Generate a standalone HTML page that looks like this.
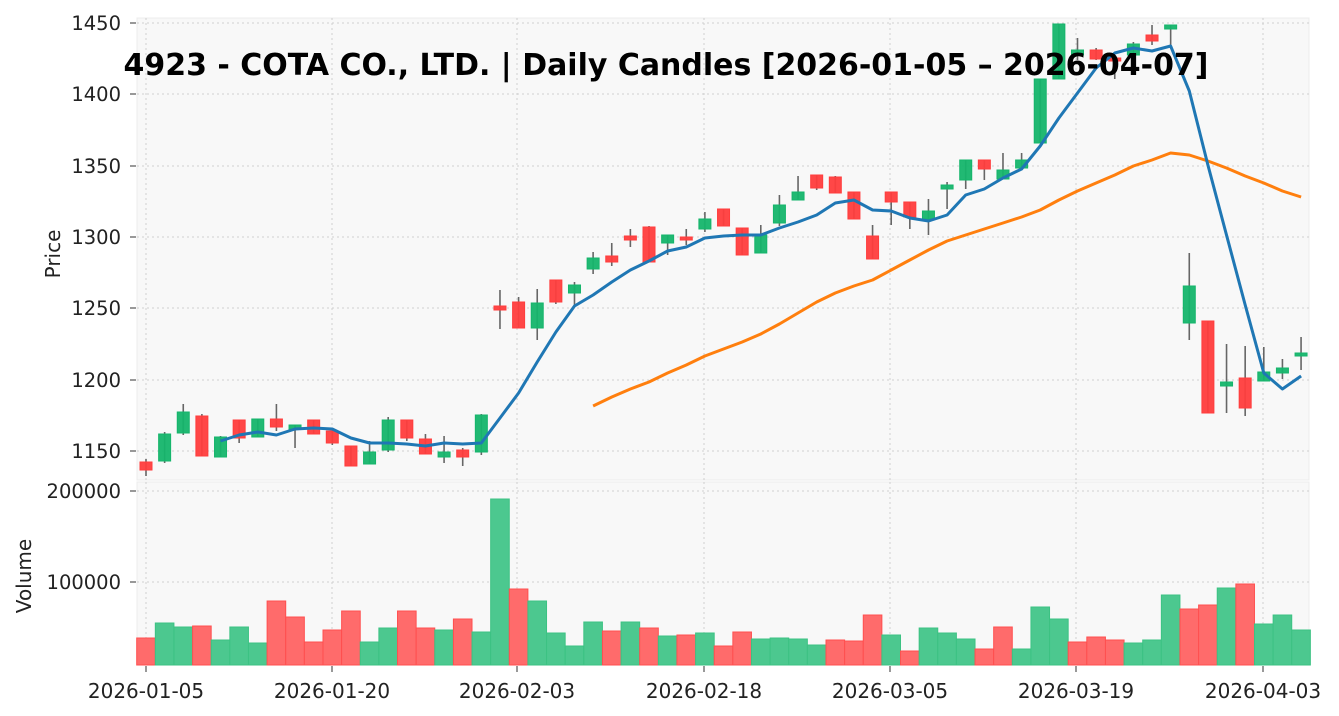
<!DOCTYPE html>
<html><head><meta charset="utf-8"><style>
html,body{margin:0;padding:0;background:#fff;}
svg{display:block;font-family:"DejaVu Sans","Liberation Sans",sans-serif;}
</style></head><body>
<svg id="s" width="1339" height="716" viewBox="0 0 1339 716" xmlns="http://www.w3.org/2000/svg">
<rect x="137" y="18" width="1172" height="462" fill="#f8f8f8" stroke="#ececec"/>
<rect x="137" y="482" width="1172" height="183" fill="#f8f8f8" stroke="#ececec"/>
<g id="grid" stroke="#cfcfcf" stroke-dasharray="2,3" stroke-width="1"></g>
<g id="vol"></g>
<g id="cdl"></g>
<polyline id="ma2" fill="none" stroke="#ff7f0e" stroke-width="3" stroke-linejoin="round"/>
<polyline id="ma1" fill="none" stroke="#1f77b4" stroke-width="3" stroke-linejoin="round"/>
<g font-size="19.5" fill="#222" text-anchor="end">
<text x="121" y="30">1450</text><text x="121" y="101">1400</text><text x="121" y="173">1350</text>
<text x="121" y="244">1300</text><text x="121" y="315">1250</text><text x="121" y="387">1200</text>
<text x="121" y="458">1150</text><text x="121" y="498">200000</text><text x="121" y="589">100000</text>
</g>
<g stroke="#555" stroke-width="1.2">
<line x1="130" y1="23" x2="136" y2="23"/><line x1="130" y1="94" x2="136" y2="94"/><line x1="130" y1="166" x2="136" y2="166"/>
<line x1="130" y1="237" x2="136" y2="237"/><line x1="130" y1="308" x2="136" y2="308"/><line x1="130" y1="380" x2="136" y2="380"/>
<line x1="130" y1="451" x2="136" y2="451"/><line x1="130" y1="491" x2="136" y2="491"/><line x1="130" y1="582" x2="136" y2="582"/>
<line x1="146" y1="666" x2="146" y2="672"/><line x1="332" y1="666" x2="332" y2="672"/><line x1="517" y1="666" x2="517" y2="672"/>
<line x1="704" y1="666" x2="704" y2="672"/><line x1="890" y1="666" x2="890" y2="672"/><line x1="1076" y1="666" x2="1076" y2="672"/><line x1="1263" y1="666" x2="1263" y2="672"/>
</g>
<g font-size="20" fill="#222" text-anchor="middle">
<text x="146" y="698">2026-01-05</text><text x="332" y="698">2026-01-20</text><text x="517" y="698">2026-02-03</text>
<text x="704" y="698">2026-02-18</text><text x="890" y="698">2026-03-05</text><text x="1076" y="698">2026-03-19</text><text x="1263" y="698">2026-04-03</text>
</g>
<text transform="translate(60,254) rotate(-90)" font-size="20" fill="#222" text-anchor="middle">Price</text>
<text transform="translate(31,576) rotate(-90)" font-size="20" fill="#222" text-anchor="middle">Volume</text>
<text x="666" y="75" font-size="30" font-weight="bold" fill="#000" text-anchor="middle" textLength="1085" lengthAdjust="spacingAndGlyphs">4923 - COTA CO., LTD. | Daily Candles [2026-01-05 – 2026-04-07]</text>
</svg>
<script>
var NS="http://www.w3.org/2000/svg";
function X(i){return 146+18.63*i;}
function el(p,t,a){var e=document.createElementNS(NS,t);for(var k in a)e.setAttribute(k,a[k]);p.appendChild(e);return e;}
var g=document.getElementById('grid');
[23,94,166,237,308,380,451].forEach(function(y){el(g,'line',{x1:137,x2:1309,y1:y,y2:y});});
[491,582].forEach(function(y){el(g,'line',{x1:137,x2:1309,y1:y,y2:y});});
[146,332,517,704,890,1076,1263].forEach(function(x){el(g,'line',{x1:x,x2:x,y1:18,y2:480});el(g,'line',{x1:x,x2:x,y1:482,y2:665});});
var C=[["r",462,470,459,476],["g",434,461,432,463],["g",412,433,404,435],["r",416,456,414,456],["g",437,457,436,457],
["r",420,438,420,443],["g",419,437,419,437],["r",419,427,404,431],["g",425,429,425,448],["r",420,434,420,434],
["r",431,443,431,445],["r",446,466,446,466],["g",452,464,441,464],["g",420,450,417,452],["r",420,438,420,441],
["r",439,454,434,454],["g",452,457,436,463],["r",450,457,448,466],["g",415,452,414,455],["r",306,310,290,329],
["r",302,328,297,328],["g",303,328,289,340],["r",280,302,280,304],["g",285,293,282,306],["g",258,269,252,274],
["r",256,262,243,266],["r",236,240,229,247],["r",227,262,226,262],["g",235,243,235,255],["r",237,240,229,245],
["g",219,229,212,232],["r",209,226,209,226],["r",228,255,228,255],["g",235,253,225,253],["g",205,223,195,226],
["g",192,200,176,200],["r",175,188,175,190],["r",177,193,176,193],["r",192,219,192,219],["r",236,259,225,259],
["r",192,202,192,225],["r",202,217,202,229],["g",211,219,199,235],["g",185,189,182,209],["g",160,180,160,189],
["r",160,169,160,180],["g",170,179,153,179],["g",160,168,153,168],["g",79,143,79,143],["g",24,79,24,79],
["g",50,55,38,60],["r",50,59,48,60],["r",58,61,58,79],["g",44,55,42,55],["r",35,41,25,45],
["g",25,29,25,45],["g",286,323,253,340],["r",321,413,321,413],["g",382,386,344,413],["r",378,408,346,416],
["g",372,381,347,381],["g",368,373,359,379],["g",353,356,337,370]];
var cg=document.getElementById('cdl');
C.forEach(function(c,i){var x=X(i),col=c[0]=="g"?"#15b56b":"#ff3d3d";
el(cg,'line',{x1:x,x2:x,y1:c[3],y2:c[4],stroke:"#666","stroke-width":1.6});
el(cg,'rect',{x:x-6,y:c[1],width:12,height:Math.max(2,c[2]-c[1]),fill:col,stroke:col,"stroke-width":1,"fill-opacity":0.95});});
var V=[[638,"r"],[623,"g"],[627,"g"],[626,"r"],[640,"g"],[627,"g"],[643,"g"],[601,"r"],[617,"r"],[642,"r"],[630,"r"],[611,"r"],[642,"g"],[628,"g"],[611,"r"],[628,"r"],[630,"g"],[619,"r"],[632,"g"],[499,"g"],[589,"r"],[601,"g"],[633,"g"],[646,"g"],[622,"g"],[631,"r"],[622,"g"],[628,"r"],[636,"g"],[635,"r"],[633,"g"],[646,"r"],[632,"r"],[639,"g"],[638,"g"],[639,"g"],[645,"g"],[640,"r"],[641,"r"],[615,"r"],[635,"g"],[651,"r"],[628,"g"],[633,"g"],[639,"g"],[649,"r"],[627,"r"],[649,"g"],[607,"g"],[619,"g"],[642,"r"],[637,"r"],[640,"r"],[643,"g"],[640,"g"],[595,"g"],[609,"r"],[605,"r"],[588,"g"],[584,"r"],[624,"g"],[615,"g"],[630,"g"]];
var vg=document.getElementById('vol');
V.forEach(function(v,i){var x=X(i);var f=v[1]=="g"?"#4cc88f":"#ff6b6b",s=v[1]=="g"?"#3cc283":"#ff4f4f";
el(vg,'rect',{x:x-9.3,y:v[0],width:18.6,height:665-v[0],fill:f,stroke:s,"stroke-width":1});});
var M1=[[4,441],[5,435],[6,432],[7,435],[8,429],[9,428],[10,429],[11,438],[12,443],[13,443],[14,444],[15,446],[16,443],[17,444],[18,443],[19,418],[20,393],[21,362],[22,332],[23,306],[24,295],[25,282],[26,270],[27,261],[28,251],[29,247],[30,238],[31,236],[32,235],[33,235],[34,228],[35,222],[36,215],[37,203],[38,200],[39,210],[40,211],[41,218],[42,221],[43,215],[44,195],[45,189],[46,178],[47,169],[48,146],[49,118],[50,93],[51,68],[52,53],[53,48],[54,51],[55,46],[56,91],[57,165],[58,235],[59,305],[60,373],[61,389],[62,376]];
var M2=[[24,406],[25,397],[26,389],[27,382],[28,373],[29,365],[30,356],[31,349],[32,342],[33,334],[34,324],[35,313],[36,302],[37,293],[38,286],[39,280],[40,270],[41,260],[42,250],[43,241],[44,235],[45,229],[46,223],[47,217],[48,210],[49,200],[50,191],[51,183],[52,175],[53,166],[54,160],[55,153],[56,155],[57,161],[58,168],[59,176],[60,183],[61,191],[62,197]];
function pts(a){return a.map(function(p){return X(p[0]).toFixed(1)+","+p[1];}).join(" ");}
document.getElementById('ma1').setAttribute('points',pts(M1));
document.getElementById('ma2').setAttribute('points',pts(M2));
</script>
</body></html>
